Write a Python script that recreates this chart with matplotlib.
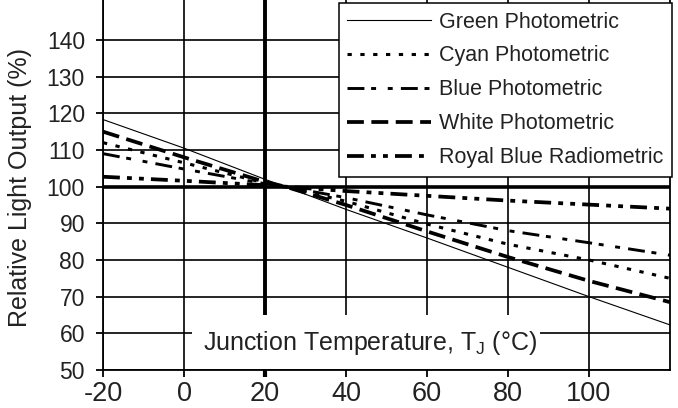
import numpy as np
from matplotlib import pyplot as plt
from matplotlib.patches import Rectangle

plt.rcParams["font.family"] = ["Liberation Sans", "DejaVu Sans"]
plt.rcParams["mathtext.fontset"] = "custom"
plt.rcParams["mathtext.rm"] = "Liberation Sans"
plt.rcParams["axes.unicode_minus"] = False

# Junction temperature (deg C) and relative light output (%)
temps = [-20, 0, 20, 25, 40, 60, 80, 100, 120]
green = [118.3, 110.5, 102.0, 100.0, 93.8, 86.0, 78.0, 70.0, 62.3]
cyan = [112.0, 106.5, 101.0, 100.0, 96.0, 89.8, 84.3, 80.0, 75.0]
blue = [109.0, 104.8, 100.8, 100.0, 97.0, 92.3, 88.0, 84.7, 81.3]
white = [115.0, 108.0, 101.3, 100.0, 95.0, 87.8, 80.8, 74.3, 68.5]
royal_blue = [102.7, 101.6, 100.4, 100.0, 98.8, 97.5, 96.2, 95.1, 94.0]

labels = [
    "Green Photometric",
    "Cyan Photometric",
    "Blue Photometric",
    "White Photometric",
    "Royal Blue Radiometric",
]
x_ticks = [-20, 0, 20, 40, 60, 80, 100]
y_ticks = [50, 60, 70, 80, 90, 100, 110, 120, 130, 140]

fig = plt.figure(figsize=(6.78, 4.08), dpi=100, facecolor="white")
ax = fig.add_axes([103 / 678, 38 / 408, 567 / 678, 370 / 408])

ax.plot(temps, green, color="black", lw=0.8, label=labels[0])
ax.plot(temps, cyan, color="black", lw=2.2, dashes=(1.4, 2.8), label=labels[1])
ax.plot(temps, blue, color="black", lw=2.1,
        dashes=(5.8, 2.3, 1.7, 4.0, 1.7, 2.8), label=labels[2])
ax.plot(temps, white, color="black", lw=2.7, dashes=(4.5, 2.0), label=labels[3])
ax.plot(temps, royal_blue, color="black", lw=2.7,
        dashes=(4.5, 1.9, 1.3, 1.9, 1.3, 1.9), label=labels[4])

ax.set_xlim(-20, 120)
ax.set_ylim(50, 150.9)
ax.set_xticks(x_ticks)
ax.set_yticks(y_ticks)
ax.set_axisbelow(True)
ax.grid(True, color="black", lw=1.2)
ax.axhline(100, color="black", lw=2.6, zorder=1)
ax.axvline(20, color="black", lw=2.8, zorder=1)

for side in ["left", "bottom", "right"]:
    ax.spines[side].set_linewidth(1.3)
ax.spines["top"].set_visible(False)

ax.tick_params(axis="both", direction="out", length=5, width=1.3, color="black")
ax.tick_params(axis="y", labelsize=16.5, pad=8, labelcolor="#222222")
ax.tick_params(axis="x", labelsize=19.5, pad=3, labelcolor="#222222")
ax.xaxis.get_major_ticks()[2].tick1line.set_markeredgewidth(3)

# white panel holding the x-axis title inside the plot
ax.add_patch(Rectangle((2.0, 50.3), 85.9, 14.7, facecolor="white",
                       edgecolor="none", zorder=1.5))
ax.text(46.0, 57.4, r"Junction Temperature, T$_\mathregular{J}$ (°C)",
        fontsize=18, ha="center", va="center", color="#222222", zorder=3)

fig.text(0.03, 0.54, "Relative Light Output (%)", rotation=90,
         fontsize=18, ha="center", va="center", color="#222222")

leg = ax.legend(loc="upper right", bbox_to_anchor=(1.003, 0.992),
                fontsize=15.5, handlelength=3.9, handletextpad=0.35,
                labelspacing=0.6, borderpad=0.4, borderaxespad=0,
                fancybox=False, framealpha=1, edgecolor="black")
leg.get_frame().set_linewidth(1.1)
for t in leg.get_texts():
    t.set_color("#222222")

fig.savefig("out.png", dpi=100)
